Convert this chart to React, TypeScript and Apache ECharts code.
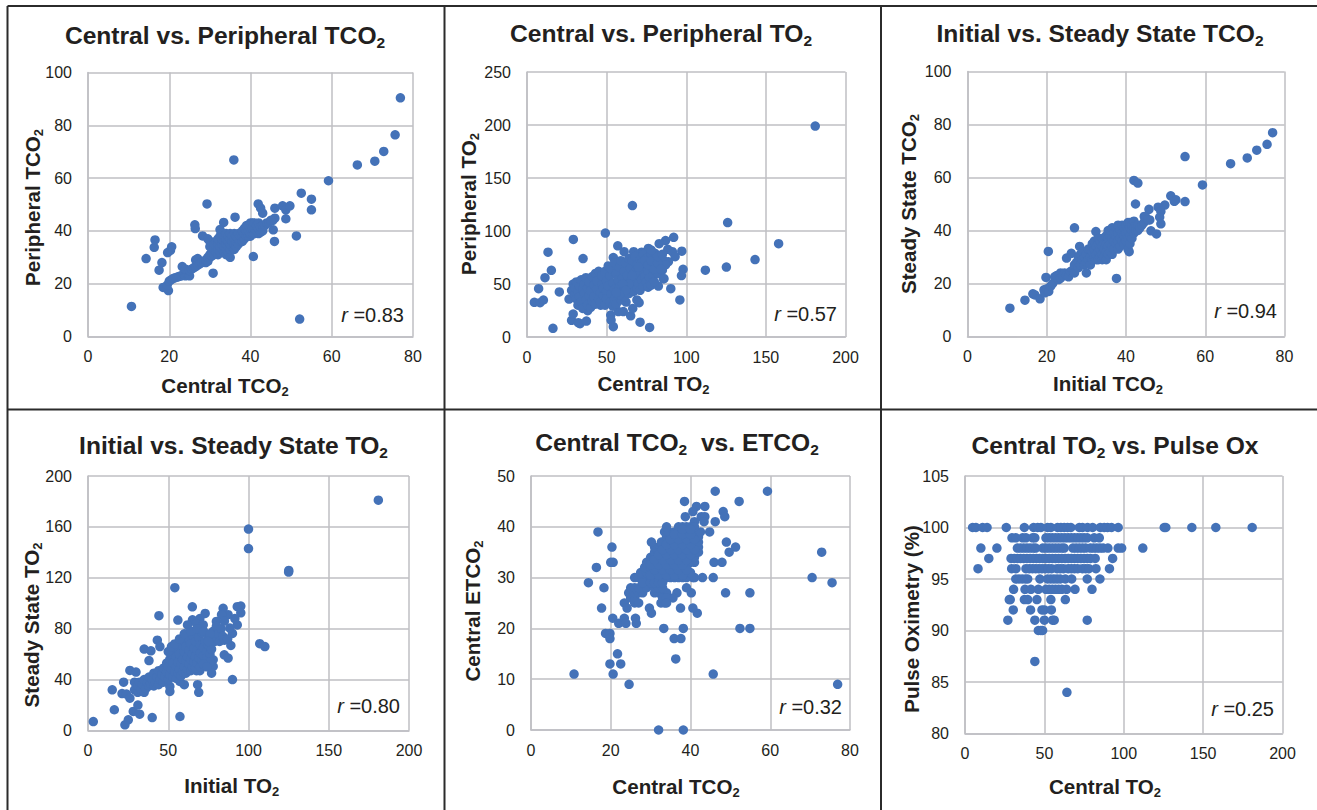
import React, { useEffect, useRef } from "react";
import * as echarts from "echarts";

const centralPeripheralTco2 = [
[10.7,11.4],[14.3,29.5],[16.3,33.8],[16.5,36.6],[17.5,25.1],[18.2,28],[18.5,18.6],[19.8,17.4],[19.6,31.8],[20.3,32.6],[20.6,34],[29.3,50.2],[26.3,42.3],[26.4,40.9],[28.2,38.1],[30.8,24],[35.9,66.9],[36.2,45.2],[33.4,43.2],[40.7,30.3],[45.6,40.4],[45.9,36],[48.7,44.6],[51.3,38.1],[52.1,6.6],[52.5,54.3],[55,52],[55,48],[59.2,59],[66.3,65],[70.6,66.4],[72.8,70.1],[75.6,76.4],[76.9,90.4],
[41.9,50.2],[42.5,48.6],[43,46.7],[46,48.6],[47.9,49.5],[48.7,48],[49.7,49.5],[46,44.8],[45.5,44],
[19.5,19.5],[20,21],[20.5,21.5],[21,22],[21.5,22.3],[22,22.5],[22.5,22.8],[23,23],[23.5,23.5],[24,23],[24.5,23.5],[25,23],[23.2,26.5],[24,25.5],[25,25],[25.5,25.5],[26,26],[26.5,26.5],[26.5,29],[27,29.5],[27,27],[27.5,27.5],[28,28],[28.5,28.5],[29,28],[29,29],[29.5,28.5],[29.5,30],[30,30],[30,31],[30.5,30.5],[30.5,32],[30,34],[30,36],[29.5,37],[31,31],[31,33],[31,35],[31.5,32],[31.5,36],[32,31],[32,33],[32,35],[32,37],[32.5,32],[32.5,34],[32.5,38],[33,33],[33,35],[33,37],[33,39],[32.5,40.5],[33.5,32],[33.5,34],[33.5,36],[33.5,38],[34,31],[34,33],[34,35],[34,37],[34,39],[34.5,32],[34.5,34],[34.5,36],[34.5,38],[35,30],[35,33],[35,35],[35,37],[35,39],[35.5,34],[35.5,36],[35.5,38],[36,33],[36,35],[36,37],[36,39],[36.5,34],[36.5,36],[36.5,38],[37,35],[37,37],[37,39],[37.5,36],[37.5,38],[38,36],[38,38],[38,40],[38.5,37],[38.5,39],[38.5,41],[39,38],[39,40],[39,42],[39.5,38],[39.5,40],[39.5,42],[40,38],[40,39],[40,41],[40,43],[40.5,39],[40.5,41],[40.5,43],[41,39],[41,41],[41,43],[41.5,40],[41.5,42],[42,39],[42,41],[42,43],[42.5,39.5],[42.5,41.5],[43,40],[43,42],[43.5,42],[44,43],[44.5,43],[45,44],
];

const centralPeripheralTo2 = [
[4.6,32.7],[8.2,32.4],[10.3,34.9],[7.3,45.6],[11.3,56],[13.2,80],[15.3,62.9],[16.3,8.2],[20.3,42.5],[26.4,35.8],[29.1,92],[35.2,74],[49.2,98],[66.2,124],[57,86],[61,80.5],[126,108],[158,88],[181,199],[112,63],[125.2,66],[143.2,73],[97.2,81],[92.1,94],[87,91],[83,88],[98,63.8],[97,58],[90.3,45.6],[96,35],[77,9],[71,14],[54.2,9.7],[65.1,20],[66.4,27],[69,35],[70.4,32.4],[52.6,20.7],[52.8,16],[28,15.7],[29,21.7],[33.3,12.6],[32.2,13.5],[37.3,15],[38.1,24.8],[46.3,30],[54,30],[57.4,24],[60.5,24],[62.2,33],[88.4,82.7],[91.3,80.5],[93,75.8],[88.8,71],[80.4,79],[76.2,83.6],[72,80],[67,80.5],[54.2,75],[82.5,60],[85.7,55],[82.5,48],[76.2,47.5],
[28,44],[29,50],[30,40],[30,47],[31,36],[31,52],[32,30],[32,43],[33,48],[33,38],[34,54],[34,33],[35,27],[35,45],[36,41],[36,50],[37,35],[37,56],[38,30],[38,46],[39,39],[39,52],[40,28],[40,44],[41,57],[41,34],[42,49],[42,38],[43,60],[43,31],[44,45],[44,53],[45,36],[45,62],[46,42],[46,33],[47,50],[47,58],[48,39],[48,46],[49,30],[49,62],[50,53],[50,43],[50,36],[51,67],[51,48],[52,33],[52,58],[53,41],[53,64],[54,29],[54,51],[55,45],[55,70],[55,36],[56,60],[56,31],[57,54],[57,40],[58,66],[58,47],[59,72],[59,35],[60,56],[60,43],[61,62],[61,38],[62,50],[62,70],[63,45],[63,58],[64,74],[64,41],[65,65],[65,52],[66,47],[66,72],[67,60],[67,43],[68,54],[68,76],[69,68],[69,46],[70,58],[70,50],[71,73],[71,44],[72,63],[72,54],[73,78],[73,48],[74,67],[74,57],[75,52],[75,74],[76,62],[76,47],[77,70],[77,56],[78,78],[78,49],[79,65],[79,58],[80,74],[80,52],[81,68],[82,60],[83,76],[84,70],[85,63],[86,55],[86,72],[87,68],
[68,62],[72,70],[74,72],[76,68],[78,72],[80,64],[82,70],[84,64],[70,66],[66,58],[64,50],[60,50],[62,44],[58,40],[56,42],[82,76],[85,78],[78,82],
];

const initialSteadyTco2 = [
[10.7,10.7],[14.5,13.7],[16.5,16.1],[17,15.7],[18.3,14.2],[19.3,17.6],[19.8,22.3],[20.4,32.1],[27,41],[25,29.6],[26.2,31.4],[28.3,34],[32.4,39.6],[37.6,21.9],[42,58.9],[43,57.9],[42.4,50],[54.9,67.9],[59.3,57.2],[66.4,65.2],[70.6,67.4],[73,70.3],[75.6,72.5],[77,76.9],[51.3,53.1],[52.6,51.6],[52.2,51],[54.9,50.9],[49.8,49.6],[48.1,48.8],[45.8,48],[48.8,47.2],[48.5,45],[48.8,42.5],[46.3,39.9],[47.7,38.7],[46,44],[44.6,45.3],[40.8,32],
[19.5,16.5],[20,18],[20.5,17],[21,19],[21.5,20],[22,22.5],[22.5,23],[23,21.5],[23.5,24],[23.5,22],[24,23],[24.5,24],[25,23],[25.5,22.5],[26,24.5],[26.5,25],[27,24],[27,27],[27.5,28],[28,26],[28,30],[28.5,27],[28.5,31],[29,29],[29,32],[29.5,27],[29.5,30],[30,24],[30,28],[30,31],[30.5,29],[30.5,33],[31,27],[31,30],[31,33],[31.5,29],[31.5,32],[31.5,35],[32,30],[32,33],[32,36],[32.5,29],[32.5,31],[32.5,34],[33,29],[33,32],[33,35],[33,37],[33.5,30],[33.5,33],[33.5,36],[34,29],[34,31],[34,34],[34,37],[34.5,30],[34.5,33],[34.5,35],[35,29],[35,32],[35,35],[35,38],[35.5,31],[35.5,34],[35.5,37],[35.5,40],[36,32],[36,35],[36,38],[36,40],[36.5,31],[36.5,34],[36.5,37],[36.5,41],[37,33],[37,36],[37,39],[37.5,35],[37.5,38],[37.5,41],[38,33],[38,36],[38,39],[38,42],[38.5,34],[38.5,37],[38.5,40],[39,36],[39,39],[39,42],[39.5,35],[39.5,38],[39.5,41],[40,36],[40,39],[40,42],[40.5,33],[40.5,37],[40.5,40],[40.5,43],[41,35],[41,38],[41,41],[41,43],[41.5,37],[41.5,40],[41.5,42],[42,39],[42,41],[42,43.5],[42.5,40],[42.5,42],[43,40],[43,42],[43.5,41],[44,42],[44.5,43],[45,45],[45.5,44],
];

const initialSteadyTo2 = [
[3.3,7],[15.1,32],[16.4,16.3],[22.2,38],[21.2,29],[24,28.6],[26.1,25.4],[23,4.5],[25.1,8.4],[28.2,15],[31.1,20],[32.2,12.8],[40,10.2],[57.3,11],[26.1,47.2],[29.9,45.9],[35,64],[39.2,62.6],[38,55],[43.2,71],[44.8,66],[44.2,90.2],[54.1,112.2],[56,86.8],[65,97.2],[100,158.3],[100,143],[125.1,125.8],[125,124.5],[180.9,181],[107,68.2],[110.2,66],[90,40],[89,66.8],[95.2,97.8],[93,97.3],[95.2,92.5],[93,83],[90,76.3],[91.5,88],[87.3,91],[84.2,96],[83.2,91],[73,92],[69.7,88],[65.1,87],[62,83],[67.6,84],[71.8,83],[88.4,80.5],[80,85.7],[84.9,59.5],[87.3,56.9],[78,55.6],[78,50.3],[77,45],[69.7,47],[67.6,47],[68.3,36],[69,30],[51,30.7],[51,34.6],[60,36],[57.3,38.5],
[29,32],[29,38],[31,30],[31,35],[32,38],[33,32],[34,36],[35,30],[35,40],[36,33],[37,38],[38,35],[38,42],[39,37],[40,40],[41,35],[41,45],[42,38],[43,42],[44,36],[44,47],[45,40],[46,44],[47,38],[47,49],[48,42],[49,46],[49,53],[50,40],[50,50],[51,44],[51,56],[52,48],[52,60],[53,42],[53,53],[54,46],[54,63],[55,41],[55,50],[55,58],[56,45],[56,54],[56,65],[57,48],[57,60],[58,43],[58,52],[58,67],[59,46],[59,56],[60,50],[60,62],[60,70],[61,45],[61,55],[61,66],[62,48],[62,58],[62,76],[63,52],[63,63],[63,72],[64,47],[64,56],[64,68],[65,50],[65,60],[65,75],[66,54],[66,65],[66,78],[67,49],[67,58],[67,70],[68,53],[68,63],[69,57],[69,73],[70,50],[70,61],[70,67],[71,55],[71,77],[72,59],[72,65],[73,53],[73,70],[74,62],[74,57],[75,67],[75,75],[76,60],[76,54],[77,64],[77,72],[78,78],[79,70],[80,82],[80,72],[81,76],[82,70],[83,80],[84,74],[85,86],[85,71],[87,72],
[50,62],[52,66],[54,68],[57,72],[60,76],[64,78],[68,80],[72,78],[76,76],[72,52],[74,50],[75,70],
];

const centralTco2Etco2 = [
[10.8,11],[14.4,29],[16.4,32],[16.8,39],[17.7,24],[18.3,28],[18.7,19],[19.8,19],[19.8,18],[19.8,13],[20.6,11],[21.7,15],[22.5,13],[24.6,9],[20,33],[20.6,33],[20.3,36],[20.5,22],[22,21],[23.4,22],[23.8,21],[26.2,22],[26.4,21],[23.4,25],[24.1,24],[32,0],[38.2,0],[33.3,20],[38.2,20],[35.9,18],[37.6,18],[36.3,14],[45.7,11],[76.9,9],[75.5,29],[70.5,30],[72.9,35],[59.3,47],[46.2,47],[52.2,45],[38.5,45],[41.5,44],[43.6,44],[48.2,43],[48.6,42],[40.6,43],[38.7,42],[42.7,42],[43.6,42],[43.4,41],[41,41],[46.2,41],[44.8,39],[49,37],[51.3,36],[49.7,35],[45.9,33],[47.9,33],[45.7,30],[43,30],[40.6,30],[48.8,27],[54.9,27],[52.4,20],[54.9,20],[41.7,23],[40.6,24],[37.5,24],[29.7,24],[30.2,23],[40.2,27],[39,28],[36.6,27],[35.6,26],[33.5,25],[32.6,25],
[25,26],[26,25],[26,26],[27,25],[24.5,27],[26,27],[27,27],[28,27],[25,28],[26,28],[27,28],[29,28],[31,27],[32,27],[33,27],[34,27],[31,28],[32,28],[33,28],[33,26],[34,26],[34,25],
[26,30],[27,30],[28,30],[29,30],[30,30],[31,30],[32,30],[33,30],[34,30],[35,30],[36,30],[37,30],[38,30],[39,30],[41,30],[28,29],[30,29],[31,29],[32,29],[33,29],[27.5,31],[29,31],[30,31],[31,31],[32,31],[33,31],[34,31],[35,31],[36,31],[37,31],[38,31],[39,31],[40,31],[28.5,32],[30,32],[31,32],[32,32],[33,32],[34,32],[35,32],[36,32],[37,32],[38,32],[39,32],[29,33],[30,33],[31,33],[32,33],[33,33],[34,33],[35,33],[36,33],[37,33],[38,33],[39,33],[40,33],[41,33],[30,34],[31,34],[32,34],[33,34],[34,34],[35,34],[36,34],[37,34],[38,34],[39,34],[40,34],[41,34],[31,35],[32,35],[33,35],[34,35],[35,35],[36,35],[37,35],[38,35],[39,35],[40,35],[41,35],[42,35],[31,36],[32.5,36],[33,36],[34,36],[35,36],[36,36],[37,36],[38,36],[39,36],[40,36],[41,36],[42,36],[30.2,37],[32.7,37],[34,37],[35,37],[36,37],[37,37],[38,37],[39,37],[40,37],[41,37],[42,37],[34,38],[35,38],[36,38],[37,38],[38,38],[39,38],[40,38],[41,38],[42,38],[33.5,39],[34.5,39],[36,39],[37,39],[38,39],[39,39],[40,39],[41,39],[42.5,39],[34,40],[37,40],[38,40],[39,40],[40,40],[41,40],
[30,30.5],[32,30.5],[34,30.5],[36,30.5],[38,30.5],[31,31.5],[33,31.5],[35,31.5],[37,31.5],[39,31.5],[30,32.5],[32,32.5],[34,32.5],[36,32.5],[38,32.5],[31,33.5],[33,33.5],[35,33.5],[37,33.5],[39,33.5],[32,34.5],[34,34.5],[36,34.5],[38,34.5],[40,34.5],[33,35.5],[35,35.5],[37,35.5],[39,35.5],[41,35.5],[34,36.5],[36,36.5],[38,36.5],[40,36.5],[35,37.5],[37,37.5],[39,37.5],[41,37.5],[36,38.5],[38,38.5],[40,38.5],[38,39.5],[40,39.5],
];

const centralTo2PulseOx = [
[4.8,100],[6.9,100],[11.1,100],[13.9,100],[26,100],[37.4,100],[43.2,100],[45.8,100],[47.8,100],[52,100],[54.1,100],[58.3,100],[60.4,100],[62.5,100],[64.6,100],[66.7,100],[72,100],[74,100],[77.2,100],[80.4,100],[85.2,100],[87.7,100],[89.8,100],[92.3,100],[96.5,100],[125.5,100],[126.5,100],[142.9,100],[158,100],[180.9,100],
[29.6,99],[32,99],[36.3,99],[38.4,99],[42.6,99],[44,99],[51,99],[53,99],[55,99],[57,99],[59,99],[61,99],[63,99],[65,99],[67,99],[69,99],[71,99],[73,99],[75,99],[77,99],[81.4,99],[84.6,99],
[10,98],[20.1,98],[33,98],[35,98],[37,98],[39,98],[41,98],[43,98],[44.5,98],[49,98],[51,98],[53,98],[55,98],[57,98],[59,98],[61,98],[62.5,98],[68,98],[70,98],[72,98],[74,98],[76,98],[79,98],[81,98],[83,98],[85,98],[87,98],[90,98],[96.5,98],[98.7,98],[112,98],
[15,97],[29,97],[31,97],[33,97],[35,97],[37,97],[39,97],[41,97],[43,97],[45,97],[47,97],[49,97],[51,97],[53,97],[55,97],[57,97],[59,97],[61,97],[63,97],[65,97],[67,97],[69,97],[71,97],[73,97],[75,97],[77,97],[79,97],[82,97],[93,97],
[8.2,96],[29.4,96],[32.1,96],[38.4,96],[40.5,96],[42.5,96],[44.5,96],[46.5,96],[48.5,96],[50.5,96],[52.5,96],[54.5,96],[58,96],[60,96],[62,96],[65,96],[67,96],[69,96],[71,96],[74,96],[76,96],[78,96],[82.5,96],[91,96],
[32,95],[34,95],[36,95],[38,95],[39.5,95],[47.2,95],[52,95],[54,95],[56,95],[58,95],[60,95],[63.2,95],[67.2,95],[77,95],[85,95],
[30.6,94],[37.8,94],[41.5,94],[46.2,94],[51,94],[53,94],[55,94],[57,94],[59,94],[61,94],[64,94],[69.3,94],[80,94],
[27.9,93],[28.5,93],[37.4,93],[39.5,93],[45.3,93],[54.1,93],[63.2,93],
[30.4,92],[41.3,92],[48.5,92],[50,92],[54.4,92],
[27,91],[44,91],[50,91],[55.2,91],[56.2,91],[77,91],
[46.2,90],[47.8,90],[48.9,90],[44,87],[64.2,84],
];

const SUB = "{s|2}";
const chartTitles = [
  `Central vs. Peripheral TCO${SUB}`, `Central vs. Peripheral TO${SUB}`, `Initial vs. Steady State TCO${SUB}`,
  `Initial vs. Steady State TO${SUB}`, `Central TCO${SUB}  vs. ETCO${SUB}`, `Central TO${SUB} vs. Pulse Ox`,
];
const xNames = [`Central TCO${SUB}`, `Central TO${SUB}`, `Initial TCO${SUB}`, `Initial TO${SUB}`, `Central TCO${SUB}`, `Central TO${SUB}`];
const yNames = [`Peripheral TCO${SUB}`, `Peripheral TO${SUB}`, `Steady State TCO${SUB}`, `Steady State TO${SUB}`, `Central ETCO${SUB}`, `Pulse Oximetry (%)`];
const rLabels = ["0.83", "0.57", "0.94", "0.80", "0.32", "0.25"];
const seriesData = [centralPeripheralTco2, centralPeripheralTo2, initialSteadyTco2, initialSteadyTo2, centralTco2Etco2, centralTo2PulseOx];
const xRanges = [[0, 80, 20], [0, 200, 50], [0, 80, 20], [0, 200, 50], [0, 80, 20], [0, 200, 50]];
const yRanges = [[0, 100, 20], [0, 250, 50], [0, 100, 20], [0, 200, 40], [0, 50, 10], [80, 105, 5]];

// layout: left, top, right, bottom of each plot
const plots = [
  [88, 72.5, 413, 336.5], [527, 72, 845.5, 337], [967.5, 71.5, 1284.5, 336.5],
  [88, 476, 409, 730.5], [531, 476, 850, 730], [965, 476, 1282.5, 733.5],
];
const titlePos = [[225, 35], [661, 33], [1100, 33], [233.5, 445], [677, 442], [1115, 445]];
const xNamePos = [[225, 385], [653.5, 383], [1108, 383], [231.7, 785], [676, 786], [1105, 786]];
const yNamePos = [[32, 207.5], [468, 204], [908, 204], [31, 625], [472, 611], [911, 619]];
const rPos = [[404, 315], [837, 314], [1277, 311], [400, 706], [842, 707], [1274, 709]];
const frameLines = [
  [7.5, 6, 7.5, 810], [444.5, 6, 444.5, 810], [881, 6, 881, 810], [7.5, 6, 1317, 6], [7.5, 409.5, 1317, 409.5],
];

const FONT = "Liberation Sans";
const INK = "#231f20";
const GRID = "#bfbfc3";
const BLUE = "#4472b8";

const richText = (x: number, y: number, text: string, size: number, rotation = 0) => ({
  type: "text", x, y, rotation, silent: true,
  style: {
    text, fontFamily: FONT, fontSize: size, fontWeight: "bold", fill: INK, align: "center", verticalAlign: "middle",
    rich: { s: { fontFamily: FONT, fontSize: Math.round(size * 0.62), fontWeight: "bold", fill: INK, verticalAlign: "bottom", lineHeight: size * 1.25 } },
    lineHeight: size * 1.2,
  },
});

export default function App() {
  const ref = useRef<HTMLDivElement>(null);
  useEffect(() => {
    const chart = echarts.init(ref.current!, null, { renderer: "svg" });
    const graphic: any[] = [];
    frameLines.forEach(([x1, y1, x2, y2]) =>
      graphic.push({ type: "line", silent: true, shape: { x1, y1, x2, y2 }, style: { stroke: "#2b2b2b", lineWidth: 2 } })
    );
    xNames.forEach((n, i) => graphic.push(richText(xNamePos[i][0], xNamePos[i][1], n, 20.6)));
    yNames.forEach((n, i) => graphic.push(richText(yNamePos[i][0], yNamePos[i][1], n, 20.6, Math.PI / 2)));
    rLabels.forEach((v, i) =>
      graphic.push({
        type: "text", x: rPos[i][0], y: rPos[i][1], silent: true,
        style: {
          text: `{i|r} =${v}`, fontFamily: FONT, fontSize: 20, fill: INK, align: "right", verticalAlign: "middle",
          rich: { i: { fontFamily: FONT, fontSize: 20, fontStyle: "italic", fill: INK } },
        },
      })
    );
    chart.setOption({
      animation: false,
      backgroundColor: "#ffffff",
      title: chartTitles.map((text, i) => ({
        text, left: titlePos[i][0], top: titlePos[i][1], textAlign: "center", textVerticalAlign: "middle", padding: 0,
        textStyle: {
          fontFamily: FONT, fontSize: 24.6, fontWeight: "bold", color: INK, lineHeight: 30,
          rich: { s: { fontFamily: FONT, fontSize: 15.5, fontWeight: "bold", color: INK, verticalAlign: "bottom", lineHeight: 30 } },
        },
      })),
      grid: plots.map(([l, t, r, b]) => ({ left: l, top: t, width: r - l, height: b - t, containLabel: false })),
      xAxis: xRanges.map(([min, max, interval], i) => ({
        type: "value", gridIndex: i, min, max, interval,
        axisLine: { show: true, onZero: false, lineStyle: { color: GRID, width: 1.5 } },
        axisTick: { show: false },
        axisLabel: { fontFamily: FONT, fontSize: 16, color: INK, margin: 12 },
        splitLine: { show: true, lineStyle: { color: GRID, width: 1.5 } },
      })),
      yAxis: yRanges.map(([min, max, interval], i) => ({
        type: "value", gridIndex: i, min, max, interval,
        axisLine: { show: true, onZero: false, lineStyle: { color: GRID, width: 1.5 } },
        axisTick: { show: false },
        axisLabel: { fontFamily: FONT, fontSize: 16, color: INK, margin: 16 },
        splitLine: { show: true, lineStyle: { color: GRID, width: 1.5 } },
      })),
      series: seriesData.map((data, i) => ({
        type: "scatter", xAxisIndex: i, yAxisIndex: i, data, symbol: "circle", symbolSize: 9.5,
        itemStyle: { color: BLUE, opacity: 1 }, silent: true,
      })),
      graphic,
    });
    return () => chart.dispose();
  }, []);
  return <div ref={ref} style={{ position: "fixed", left: 0, top: 0, width: 1317, height: 810, background: "#fff" }} />;
}
